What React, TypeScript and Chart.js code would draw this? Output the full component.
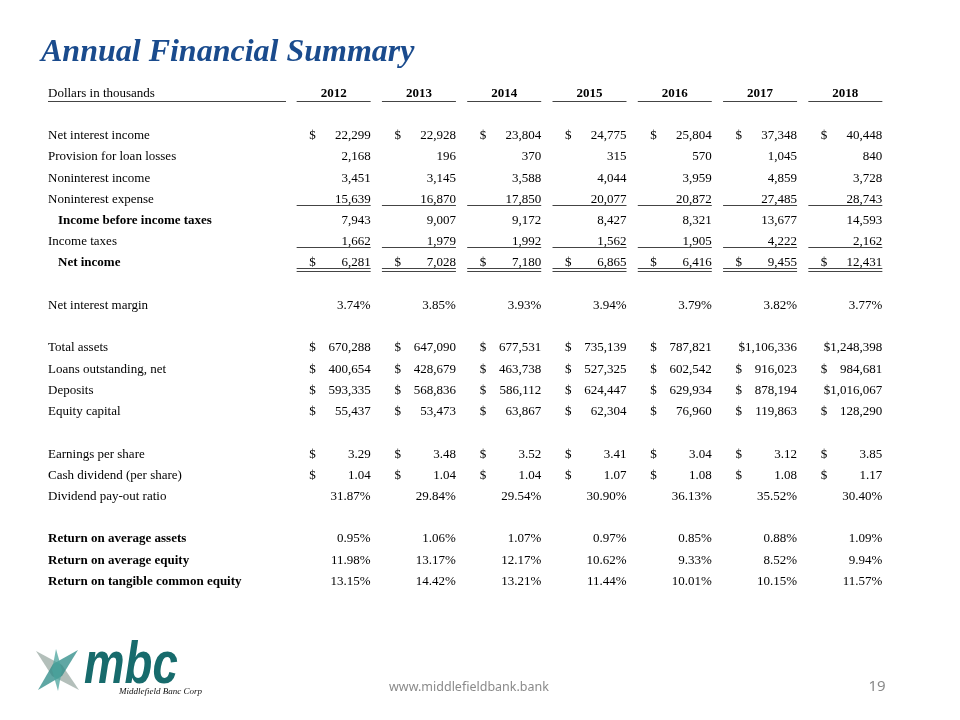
import React, { useEffect, useRef } from "react";
import { Chart, registerables } from "chart.js";

Chart.register(...registerables);

const years = ["2012", "2013", "2014", "2015", "2016", "2017", "2018"];

const netInterestIncome = [22299, 22928, 23804, 24775, 25804, 37348, 40448];
const provisionForLoanLosses = [2168, 196, 370, 315, 570, 1045, 840];
const noninterestIncome = [3451, 3145, 3588, 4044, 3959, 4859, 3728];
const noninterestExpense = [15639, 16870, 17850, 20077, 20872, 27485, 28743];
const incomeBeforeTaxes = [7943, 9007, 9172, 8427, 8321, 13677, 14593];
const incomeTaxes = [1662, 1979, 1992, 1562, 1905, 4222, 2162];
const netIncome = [6281, 7028, 7180, 6865, 6416, 9455, 12431];
const netInterestMargin = [3.74, 3.85, 3.93, 3.94, 3.79, 3.82, 3.77];
const totalAssets = [670288, 647090, 677531, 735139, 787821, 1106336, 1248398];
const loansOutstanding = [400654, 428679, 463738, 527325, 602542, 916023, 984681];
const deposits = [593335, 568836, 586112, 624447, 629934, 878194, 1016067];
const equityCapital = [55437, 53473, 63867, 62304, 76960, 119863, 128290];
const earningsPerShare = [3.29, 3.48, 3.52, 3.41, 3.04, 3.12, 3.85];
const cashDividend = [1.04, 1.04, 1.04, 1.07, 1.08, 1.08, 1.17];
const dividendPayout = [31.87, 29.84, 29.54, 30.9, 36.13, 35.52, 30.4];
const returnOnAvgAssets = [0.95, 1.06, 1.07, 0.97, 0.85, 0.88, 1.09];
const returnOnAvgEquity = [11.98, 13.17, 12.17, 10.62, 9.33, 8.52, 9.94];
const returnOnTangibleEquity = [13.15, 14.42, 13.21, 11.44, 10.01, 10.15, 11.57];

type Fmt = "int" | "pct" | "dec";
type Row = { label: string; values: number[]; fmt: Fmt; dollar: boolean } | null;

const rows: Row[] = [
  { label: "Net interest income", values: netInterestIncome, fmt: "int", dollar: true },
  { label: "Provision for loan losses", values: provisionForLoanLosses, fmt: "int", dollar: false },
  { label: "Noninterest income", values: noninterestIncome, fmt: "int", dollar: false },
  { label: "Noninterest expense", values: noninterestExpense, fmt: "int", dollar: false },
  { label: "Income before income taxes", values: incomeBeforeTaxes, fmt: "int", dollar: false },
  { label: "Income taxes", values: incomeTaxes, fmt: "int", dollar: false },
  { label: "Net income", values: netIncome, fmt: "int", dollar: true },
  null,
  { label: "Net interest margin", values: netInterestMargin, fmt: "pct", dollar: false },
  null,
  { label: "Total assets", values: totalAssets, fmt: "int", dollar: true },
  { label: "Loans outstanding, net", values: loansOutstanding, fmt: "int", dollar: true },
  { label: "Deposits", values: deposits, fmt: "int", dollar: true },
  { label: "Equity capital", values: equityCapital, fmt: "int", dollar: true },
  null,
  { label: "Earnings per share", values: earningsPerShare, fmt: "dec", dollar: true },
  { label: "Cash dividend (per share)", values: cashDividend, fmt: "dec", dollar: true },
  { label: "Dividend pay-out ratio", values: dividendPayout, fmt: "pct", dollar: false },
  null,
  { label: "Return on average assets", values: returnOnAvgAssets, fmt: "pct", dollar: false },
  { label: "Return on average equity", values: returnOnAvgEquity, fmt: "pct", dollar: false },
  { label: "Return on tangible common equity", values: returnOnTangibleEquity, fmt: "pct", dollar: false },
];

const rowLabels = rows.map((r) => (r ? r.label : ""));

const boldLabels = new Set([
  "Income before income taxes",
  "Net income",
  "Return on average assets",
  "Return on average equity",
  "Return on tangible common equity",
]);
const indentLabels = new Set(["Income before income taxes", "Net income"]);
const singleUnderline = new Set(["Noninterest expense", "Income taxes"]);
const doubleUnderline = new Set(["Net income"]);

const SERIF = "'Liberation Serif', 'Times New Roman', serif";

function fmtValue(v: number, f: Fmt) {
  if (f === "int") return v.toLocaleString("en-US");
  if (f === "pct") return v.toFixed(2) + "%";
  return v.toFixed(2);
}

const tablePlugin = {
  id: "tablePlugin",
  beforeDraw(chart: any) {
    const ctx = chart.ctx;
    ctx.save();
    ctx.fillStyle = "#ffffff";
    ctx.fillRect(0, 0, chart.width, chart.height);
    ctx.restore();
  },
  afterDraw(chart: any) {
    const ctx: CanvasRenderingContext2D = chart.ctx;
    const xs = chart.scales.x;
    const ys = chart.scales.y;
    const halfW = 37;
    const labelX = xs.left - 243;
    const headerY = ys.top - 29;
    const base = 4.5;

    ctx.save();
    // Title
    ctx.fillStyle = "#1a4b8d";
    ctx.font = `italic bold 32px ${SERIF}`;
    ctx.textAlign = "left";
    ctx.textBaseline = "alphabetic";
    ctx.fillText("Annual Financial Summary", 41, 61);

    // Header
    ctx.fillStyle = "#000";
    ctx.font = `13px ${SERIF}`;
    ctx.fillText("Dollars in thousands", labelX, headerY + 2);
    ctx.strokeStyle = "#444";
    ctx.lineWidth = 1;
    const hline = (x1: number, x2: number, y: number) => {
      ctx.beginPath();
      ctx.moveTo(x1, Math.round(y) + 0.5);
      ctx.lineTo(x2, Math.round(y) + 0.5);
      ctx.stroke();
    };
    hline(labelX, xs.left - 5, headerY + 5.5);
    ctx.font = `bold 13px ${SERIF}`;
    ctx.textAlign = "center";
    years.forEach((yr, i) => {
      const cx = xs.getPixelForValue(i);
      ctx.fillText(yr, cx, headerY + 2);
      hline(cx - halfW, cx + halfW, headerY + 5.5);
    });

    // Rows
    rows.forEach((r, ri) => {
      if (!r) return;
      const cy = ys.getPixelForValue(ri);
      const ty = cy + base;
      const bold = boldLabels.has(r.label);
      ctx.font = `${bold ? "bold " : ""}13px ${SERIF}`;
      ctx.textAlign = "left";
      ctx.fillText(r.label, labelX + (indentLabels.has(r.label) ? 10 : 0), ty);
      ctx.font = `13px ${SERIF}`;
      r.values.forEach((v, ci) => {
        const cx = xs.getPixelForValue(ci);
        const right = cx + halfW;
        const left = cx - halfW;
        const txt = fmtValue(v, r.fmt);
        ctx.textAlign = "right";
        ctx.fillText(txt, right, ty);
        if (r.dollar) {
          const w = ctx.measureText(txt).width;
          const dw = ctx.measureText("$").width;
          let dx = left + 12.5;
          if (right - w - dw < left + 16) dx = right - w - dw;
          ctx.textAlign = "left";
          ctx.fillText("$", dx, ty);
        }
        if (singleUnderline.has(r.label)) {
          hline(left, right, cy + 6.5);
        }
        if (doubleUnderline.has(r.label)) {
          hline(left, right, cy + 6.4);
          hline(left, right, cy + 8.6);
        }
      });
    });

    // Footer
    ctx.fillStyle = "#8a8a8a";
    ctx.font = "12.5px 'Noto Sans', 'Open Sans', sans-serif";
    ctx.textAlign = "center";
    ctx.fillText("www.middlefieldbank.bank", 469, 691);
    ctx.font = "15px 'Noto Sans', 'Open Sans', sans-serif";
    ctx.fillText("19", 877, 691);

    // Logo
    ctx.globalAlpha = 0.75;
    ctx.fillStyle = "#9aa9a3";
    ctx.beginPath();
    ctx.moveTo(36, 651);
    ctx.lineTo(62, 665);
    ctx.lineTo(79, 690);
    ctx.lineTo(52, 676);
    ctx.closePath();
    ctx.fill();
    ctx.fillStyle = "#2a8a86";
    ctx.beginPath();
    ctx.moveTo(78, 650);
    ctx.lineTo(62, 676);
    ctx.lineTo(38, 690);
    ctx.lineTo(53, 664);
    ctx.closePath();
    ctx.fill();
    ctx.fillStyle = "#4aa39c";
    ctx.beginPath();
    ctx.moveTo(56, 649);
    ctx.lineTo(62, 670);
    ctx.lineTo(58, 691);
    ctx.lineTo(52, 670);
    ctx.closePath();
    ctx.fill();
    ctx.globalAlpha = 1;
    ctx.fillStyle = "#176b6c";
    ctx.font = "italic bold 60px 'Liberation Sans', Arial, sans-serif";
    ctx.textAlign = "left";
    ctx.textBaseline = "alphabetic";
    ctx.save();
    ctx.translate(84, 683);
    ctx.scale(0.76, 1);
    ctx.fillText("mbc", 0, 0);
    ctx.restore();
    ctx.fillStyle = "#111";
    ctx.font = `italic 9px ${SERIF}`;
    ctx.fillText("Middlefield Banc Corp", 119, 694);
    ctx.restore();
  },
};

export default function App() {
  const ref = useRef<HTMLCanvasElement | null>(null);
  useEffect(() => {
    document.body.style.margin = "0";
    if (!ref.current) return;
    const chart = new Chart(ref.current, {
      type: "bar",
      data: { labels: years, datasets: [] },
      options: {
        animation: false,
        responsive: true,
        maintainAspectRatio: false,
        layout: { padding: { left: 291, right: 72, top: 124, bottom: 129 } },
        plugins: { legend: { display: false }, tooltip: { enabled: false } },
        scales: {
          x: { type: "category", offset: true, display: false },
          y: { type: "category", labels: rowLabels, offset: true, display: false },
        },
      },
      plugins: [tablePlugin],
    });
    return () => chart.destroy();
  }, []);
  return (
    <div style={{ position: "absolute", left: 0, top: 0, width: 960, height: 720 }}>
      <canvas ref={ref} />
    </div>
  );
}
